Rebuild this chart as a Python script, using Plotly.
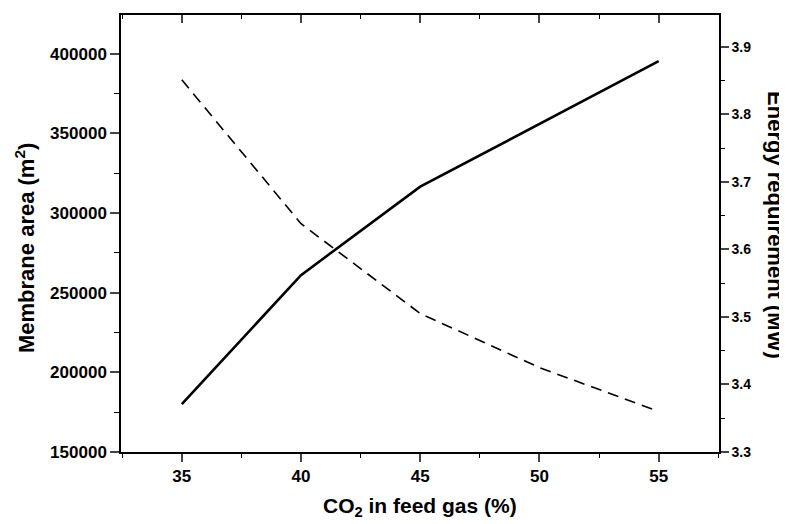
import plotly.graph_objects as go

co2_pct = [35, 40, 45, 50, 55]
membrane_area = [180000, 261000, 316500, 356000, 395200]
energy_mw = [3.851, 3.638, 3.505, 3.425, 3.36]

x_ticks = [35, 40, 45, 50, 55]
y_left_ticks = [150000, 200000, 250000, 300000, 350000, 400000]
y_right_ticks = [3.3, 3.4, 3.5, 3.6, 3.7, 3.8, 3.9]

FONT = "Liberation Sans, Arial, sans-serif"

fig = go.Figure()
fig.add_trace(go.Scatter(x=co2_pct, y=membrane_area, mode="lines",
                         line=dict(color="black", width=2.6), xaxis="x", yaxis="y",
                         showlegend=False))
fig.add_trace(go.Scatter(x=co2_pct, y=energy_mw, mode="lines",
                         line=dict(color="black", width=1.6, dash="11px,7px"),
                         xaxis="x", yaxis="y2", showlegend=False))
fig.add_trace(go.Scatter(x=[], y=[], xaxis="x2", yaxis="y", showlegend=False))

xr = [32.45, 57.53]
tickfont = dict(family=FONT, size=17, color="black", weight="bold")

fig.update_layout(
    width=779, height=516,
    margin=dict(l=113, r=67.5, t=7, b=71.7),
    paper_bgcolor="white", plot_bgcolor="white",
    xaxis=dict(range=xr, tickvals=x_ticks, ticks="outside", ticklen=8, tickwidth=1.5,
               showline=True, linecolor="black", linewidth=1.5, showgrid=False,
               zeroline=False, tickfont=tickfont,
               minor=dict(dtick=2.5, tick0=35, ticks="outside", ticklen=4, tickwidth=1.2,
                          tickcolor="black", showgrid=False)),
    xaxis2=dict(range=xr, overlaying="x", side="top", tickvals=x_ticks, ticks="inside",
                ticklen=8, tickwidth=1.5, showline=True, linecolor="black", linewidth=1.5,
                showgrid=False, zeroline=False, showticklabels=False,
                minor=dict(dtick=2.5, tick0=35, ticks="inside", ticklen=4, tickwidth=1.2,
                           tickcolor="black", showgrid=False)),
    yaxis=dict(range=[150000, 424200], tickvals=y_left_ticks, tickformat="d",
               ticks="outside", ticklen=9, tickwidth=1.5, showline=True, linecolor="black",
               linewidth=1.5, showgrid=False, zeroline=False, tickfont=tickfont,
               minor=dict(dtick=25000, tick0=150000, ticks="outside", ticklen=5,
                          tickwidth=1.2, tickcolor="black", showgrid=False)),
    yaxis2=dict(range=[3.3, 3.947], overlaying="y", side="right", tickvals=y_right_ticks,
                tickformat=".1f", ticks="outside", ticklen=8, tickwidth=1.5, showline=True,
                linecolor="black", linewidth=1.5, showgrid=False, zeroline=False,
                tickfont=dict(family=FONT, size=14, color="black", weight="bold"),
                minor=dict(dtick=0.05, tick0=3.3, ticks="outside", ticklen=4,
                           tickwidth=1.2, tickcolor="black", showgrid=False)),
    annotations=[
        dict(text="CO<sub>2</sub> in feed gas (%)", xref="paper", yref="paper",
             x=0.4996, y=-0.127, xanchor="center", yanchor="middle", showarrow=False,
             font=dict(family=FONT, size=21, color="black", weight="bold")),
        dict(text="Membrane area (m<sup>2</sup>)", xref="paper", yref="paper",
             x=-0.1604, y=0.467, xanchor="center", yanchor="middle", showarrow=False,
             textangle=-90, font=dict(family=FONT, size=22, color="black", weight="bold")),
        dict(text="Energy requirement (MW)", xref="paper", yref="paper",
             x=1.0955, y=0.519, xanchor="center", yanchor="middle", showarrow=False,
             textangle=90, font=dict(family=FONT, size=22, color="black", weight="bold")),
    ],
)

fig.write_html("out.html")
